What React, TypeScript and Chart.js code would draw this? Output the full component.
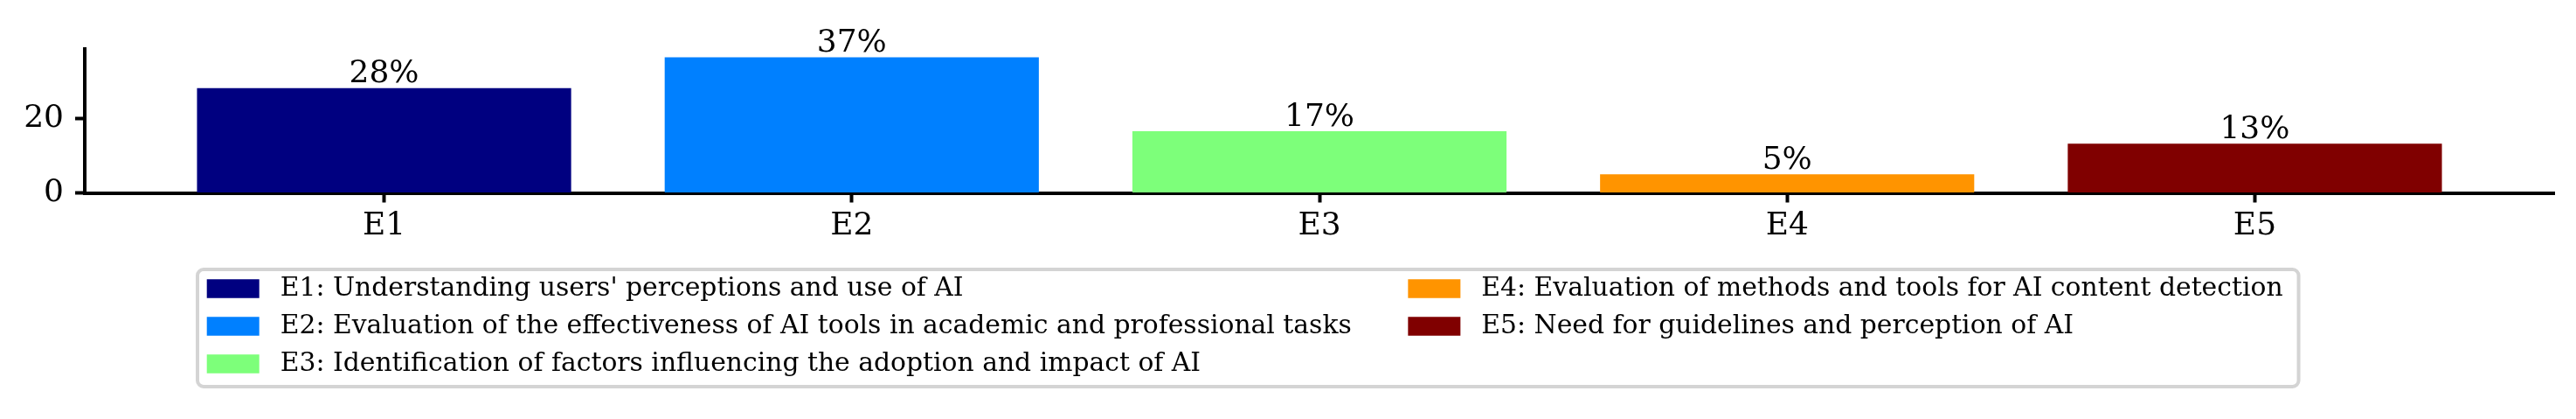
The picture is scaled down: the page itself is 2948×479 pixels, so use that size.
import React, { useEffect, useRef } from 'react';
import { Chart, registerables } from 'chart.js';

Chart.register(...registerables);

const categories = ['E1', 'E2', 'E3', 'E4', 'E5'];
const percentages = [28.33, 36.67, 16.67, 5.0, 13.33];
const barLabels = ['28%', '37%', '17%', '5%', '13%'];
const barColors = ['#000080', '#0080ff', '#7dff7a', '#ff9400', '#800000'];
const legendLabels = [
  "E1: Understanding users' perceptions and use of AI",
  'E2: Evaluation of the effectiveness of AI tools in academic and professional tasks',
  'E3: Identification of factors influencing the adoption and impact of AI',
  'E4: Evaluation of methods and tools for AI content detection',
  'E5: Need for guidelines and perception of AI',
];
const yTicks = [0, 20];
const yMax = 38.93;
const xMin = -0.64;
const xMax = 4.64;

const FONT = "'DejaVu Serif', serif";
const W = 2948;
const H = 479;

const barLabelPlugin = {
  id: 'barLabels',
  afterDatasetsDraw(chart: any) {
    const ctx = chart.ctx;
    const meta = chart.getDatasetMeta(0);
    ctx.save();
    ctx.font = `36px ${FONT}`;
    ctx.fillStyle = '#000';
    ctx.textAlign = 'center';
    ctx.textBaseline = 'alphabetic';
    meta.data.forEach((bar: any, i: number) => {
      ctx.fillText(barLabels[i], bar.x, bar.y - 6.5);
    });
    ctx.restore();
  },
};

const legendPlugin = {
  id: 'customLegend',
  afterDraw(chart: any) {
    const ctx = chart.ctx;
    ctx.save();
    ctx.font = `29.8px ${FONT}`;
    const rows = 3;
    const col1 = legendLabels.slice(0, rows);
    const col2 = legendLabels.slice(rows);
    const w1 = Math.max(...col1.map((t) => ctx.measureText(t).width));
    const w2 = Math.max(...col2.map((t) => ctx.measureText(t).width));
    const boxLeft = 226;
    const boxTop = 308;
    const boxBottom = 442;
    const patchW = 60;
    const patchH = 21.5;
    const patchToText = 24;
    const col1Patch = 236.7;
    const col1Text = col1Patch + patchW + patchToText;
    const col2Patch = col1Text + w1 + 64.6;
    const col2Text = col2Patch + patchW + patchToText;
    const boxRight = col2Text + w2 + 18;
    const rowY = (r: number) => 330 + r * 43;

    // frame
    const r = 7;
    ctx.beginPath();
    ctx.moveTo(boxLeft + r, boxTop);
    ctx.lineTo(boxRight - r, boxTop);
    ctx.arcTo(boxRight, boxTop, boxRight, boxTop + r, r);
    ctx.lineTo(boxRight, boxBottom - r);
    ctx.arcTo(boxRight, boxBottom, boxRight - r, boxBottom, r);
    ctx.lineTo(boxLeft + r, boxBottom);
    ctx.arcTo(boxLeft, boxBottom, boxLeft, boxBottom - r, r);
    ctx.lineTo(boxLeft, boxTop + r);
    ctx.arcTo(boxLeft, boxTop, boxLeft + r, boxTop, r);
    ctx.closePath();
    ctx.fillStyle = 'rgba(255,255,255,0.8)';
    ctx.fill();
    ctx.lineWidth = 4;
    ctx.strokeStyle = '#d4d4d4';
    ctx.stroke();

    ctx.textAlign = 'left';
    ctx.textBaseline = 'middle';
    legendLabels.forEach((label, i) => {
      const col = i < rows ? 0 : 1;
      const row = i < rows ? i : i - rows;
      const y = rowY(row);
      const px = col === 0 ? col1Patch : col2Patch;
      const tx = col === 0 ? col1Text : col2Text;
      ctx.fillStyle = barColors[i];
      ctx.fillRect(px, y - patchH / 2, patchW, patchH);
      ctx.fillStyle = '#000';
      ctx.fillText(label, tx, y);
    });
    ctx.restore();
  },
};

export default function App() {
  const canvasRef = useRef<HTMLCanvasElement | null>(null);

  useEffect(() => {
    if (!canvasRef.current) return;
    const chart = new Chart(canvasRef.current, {
      type: 'bar',
      data: {
        datasets: [
          {
            data: percentages.map((v, i) => ({ x: i, y: v })),
            backgroundColor: barColors,
            borderWidth: 0,
            barPercentage: 0.8,
            categoryPercentage: 1.0,
          },
        ],
      },
      options: {
        responsive: false,
        animation: false,
        devicePixelRatio: 1,
        layout: { padding: { top: 56, right: 25, left: 0, bottom: 0 } },
        plugins: {
          legend: { display: false },
          tooltip: { enabled: false },
        },
        scales: {
          x: {
            type: 'linear',
            min: xMin,
            max: xMax,
            offset: false,
            grid: {
              display: true,
              offset: false,
              drawOnChartArea: false,
              drawTicks: true,
              tickLength: 11,
              tickWidth: 4,
              tickColor: '#000',
            },
            border: { display: true, color: '#000', width: 4 },
            afterBuildTicks: (s: any) => {
              s.ticks = categories.map((_, i) => ({ value: i }));
            },
            afterFit: (s: any) => {
              s.height = H - 220.5;
            },
            ticks: {
              autoSkip: false,
              maxRotation: 0,
              padding: 6,
              color: '#000',
              font: { family: FONT, size: 36 },
              callback: (v: any) => categories[Math.round(Number(v))] ?? '',
            },
          },
          y: {
            min: 0,
            max: yMax,
            grid: {
              display: true,
              offset: false,
              drawOnChartArea: false,
              drawTicks: true,
              tickLength: 11,
              tickWidth: 4,
              tickColor: '#000',
            },
            border: { display: true, color: '#000', width: 4 },
            afterBuildTicks: (s: any) => {
              s.ticks = yTicks.map((v) => ({ value: v }));
            },
            afterFit: (s: any) => {
              s.width = 97;
            },
            ticks: {
              padding: 13,
              color: '#000',
              font: { family: FONT, size: 36 },
              callback: (v: any) => String(v),
            },
          },
        },
      },
      plugins: [barLabelPlugin, legendPlugin],
    } as any);
    return () => chart.destroy();
  }, []);

  return (
    <div style={{ position: 'fixed', left: 0, top: 0, width: W, height: H, background: '#fff' }}>
      <canvas ref={canvasRef} width={W} height={H} style={{ display: 'block', width: W, height: H }} />
    </div>
  );
}
